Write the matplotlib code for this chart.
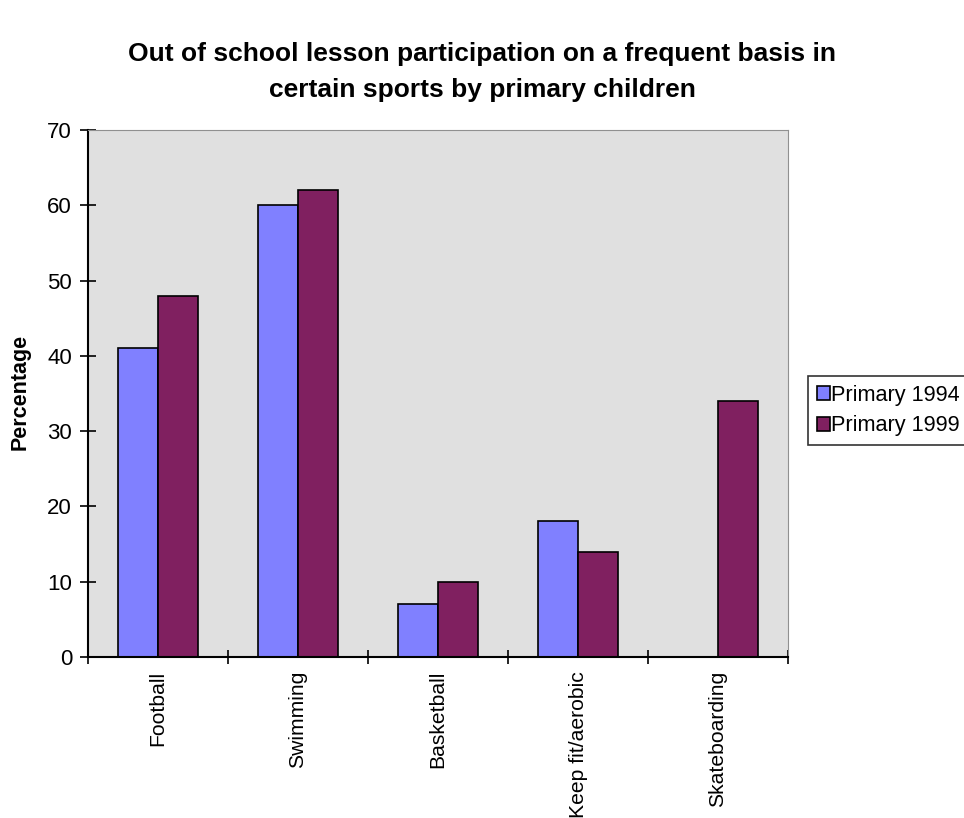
import matplotlib
matplotlib.use('Agg')
import matplotlib.pyplot as plt
import numpy as np

plt.rcParams['font.family'] = ['Liberation Sans', 'DejaVu Sans']

# data
sports = ['Football', 'Swimming', 'Basketball', 'Keep fit/aerobic', 'Skateboarding']
primary_1994 = [41, 60, 7, 18, 0]
primary_1999 = [48, 62, 10, 14, 34]
series_names = ['Primary 1994', 'Primary 1999']
colors = ['#8080FF', '#802060']

fig = plt.figure(figsize=(9.64, 8.18), dpi=100)
ax = fig.add_axes([88/964, 1 - 657/818, 700/964, 527/818])
ax.set_facecolor('#E0E0E0')

x = np.arange(len(sports))
w = 0.286
ax.bar(x - w/2, primary_1994, w, color=colors[0], edgecolor='black', linewidth=1.2,
       label=series_names[0])
ax.bar(x + w/2, primary_1999, w, color=colors[1], edgecolor='black', linewidth=1.2,
       label=series_names[1])

ax.set_xlim(-0.5, len(sports) - 0.5)
ax.set_ylim(0, 70)
ax.set_yticks(range(0, 71, 10))
ax.tick_params(axis='y', direction='inout', length=11, width=1.2, labelsize=16, pad=6)

# category labels at centres, tick marks at the boundaries
ax.set_xticks(x)
ax.set_xticklabels(sports, rotation=90, fontsize=15.2)
ax.tick_params(axis='x', which='major', length=0, pad=10)
ax.set_xticks(np.arange(-0.5, len(sports), 1), minor=True)
ax.tick_params(axis='x', which='minor', direction='inout', length=10, width=1.2)

for s in ['top', 'right']:
    ax.spines[s].set_color('#909090')
for s in ['left', 'bottom']:
    ax.spines[s].set_linewidth(1.5)

fig.text(0.5, 1 - 72/818, 'Out of school lesson participation on a frequent basis in\ncertain sports by primary children',
         ha='center', va='center', fontsize=19, fontweight='bold', linespacing=1.6)
fig.text(20/964, 1 - 392/818, 'Percentage', rotation=90, ha='center', va='center',
         fontsize=15.5, fontweight='bold')

leg = ax.legend(loc='upper left', bbox_to_anchor=(808/964, 1 - 376/818),
                bbox_transform=fig.transFigure, borderaxespad=0, fancybox=False,
                edgecolor='black', fontsize=15.6, handlelength=0.6, handleheight=0.6,
                handletextpad=0.05, borderpad=0.4, labelspacing=0.45)
leg.get_frame().set_linewidth(1.2)

fig.savefig('out.png', dpi=100)
